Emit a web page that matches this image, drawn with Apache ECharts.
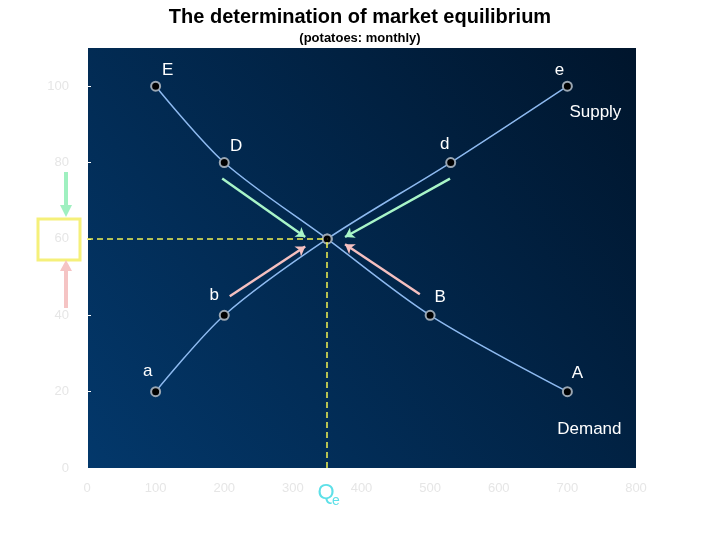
<!DOCTYPE html>
<html><head><meta charset="utf-8">
<script src="https://cdn.jsdelivr.net/npm/echarts@6/dist/echarts.min.js"></script>
<style>body{margin:0}#c{width:720px;height:540px}</style></head>
<body><div id="c"></div>
<script>
const demandQ = [100, 200, 350, 500, 700];
const demandP = [100, 80, 60, 40, 20];
const supplyQ = [100, 200, 350, 530, 700];
const supplyP = [20, 40, 60, 80, 100];
const xTicks = [0, 100, 200, 300, 400, 500, 600, 700, 800];
const yTicks = [0, 20, 40, 60, 80, 100];
const eqQ = 350, eqP = 60;
const pointLabels = [
  {t:'E', c:[100,100], dx:12, dy:-16}, {t:'D', c:[200,80], dx:12, dy:-16},
  {t:'B', c:[500,40], dx:10, dy:-18}, {t:'A', c:[700,20], dx:10, dy:-18},
  {t:'Demand', c:[700,20], dx:22, dy:38},
  {t:'a', c:[100,20], dx:-8, dy:-20}, {t:'b', c:[200,40], dx:-10, dy:-20},
  {t:'d', c:[530,80], dx:-6, dy:-18}, {t:'e', c:[700,100], dx:-8, dy:-16},
  {t:'Supply', c:[700,100], dx:28, dy:26}
];
const chart = echarts.init(document.getElementById('c'));
const curve = (q, p) => q.map((v, i) => [v, p[i]]);
const arrow = (a, b, col) => [{coord:a, lineStyle:{color:col, width:2.5, type:'solid'}, symbol:'none'}, {coord:b, symbol:'arrow'}];
const baseGraphic = [
  {type:'rect', shape:{x:38,y:219,width:42,height:41}, style:{fill:'none', stroke:'#f5f07a', lineWidth:3}},
  {type:'line', shape:{x1:66,y1:172,x2:66,y2:207}, style:{stroke:'#9ff0c0', lineWidth:4}},
  {type:'polygon', shape:{points:[[60,205],[72,205],[66,217]]}, style:{fill:'#9ff0c0'}},
  {type:'line', shape:{x1:66,y1:308,x2:66,y2:270}, style:{stroke:'#f5c4c4', lineWidth:4}},
  {type:'polygon', shape:{points:[[60,271],[72,271],[66,260]]}, style:{fill:'#f5c4c4'}},
  {type:'text', x:326, y:493, style:{text:'Q', fill:'#5ee0e8', font:'22px Liberation Sans', align:'center', verticalAlign:'middle'}},
  {type:'text', x:336, y:501, style:{text:'e', fill:'#5ee0e8', font:'14px Liberation Sans', align:'center', verticalAlign:'middle'}}
];
chart.setOption({
  animation:false,
  backgroundColor:'#ffffff',
  title:[{text:'The determination of market equilibrium', left:'center', top:2, textStyle:{fontFamily:'Liberation Sans', fontSize:20, fontWeight:'bold', color:'#000'}},
         {text:'(potatoes: monthly)', left:'center', top:27, textStyle:{fontFamily:'Liberation Sans', fontSize:13, fontWeight:'bold', color:'#000'}}],
  grid:{left:87, right:84, top:48, bottom:72, show:true, borderWidth:0,
    backgroundColor:new echarts.graphic.LinearGradient(0,1,1,0,[{offset:0,color:'#03386b'},{offset:1,color:'#00152c'}])},
  xAxis:{type:'value', min:0, max:800, interval:100,
    axisLine:{show:true, lineStyle:{color:'#fff'}}, axisTick:{show:false}, splitLine:{show:false},
    axisLabel:{color:'#e6e6e6', fontSize:13, margin:14, formatter:v=>xTicks.includes(v)?String(v):''}},
  yAxis:{type:'value', min:0, max:110, interval:20,
    axisLine:{show:true, lineStyle:{color:'#fff', width:2}}, axisTick:{show:true, length:4, inside:true, lineStyle:{color:'#fff'}}, splitLine:{show:false},
    axisLabel:{color:'#e6e6e6', fontSize:13, margin:18, showMaxLabel:false, formatter:v=>yTicks.includes(v)?String(v):''}},
  series:[
    {type:'line', data:curve(demandQ, demandP), smooth:0.3, symbol:'circle', symbolSize:9,
      lineStyle:{color:'#8db9ef', width:1.5}, itemStyle:{color:'#000', borderColor:'#9aa6b2', borderWidth:2}, z:3,
      markLine:{silent:true, symbol:['none','arrow'], symbolSize:9, label:{show:false},
        data:[
          arrow([197,75.8],[318,60.5],'#a8f5c8'),
          arrow([529,75.8],[376,60.5],'#a8f5c8'),
          arrow([208,45],[318,58],'#f5c0c0'),
          arrow([485,45.5],[376,58.6],'#f5c0c0')
        ]}},
    {type:'line', data:curve(supplyQ, supplyP), smooth:0.3, symbol:'circle', symbolSize:9,
      lineStyle:{color:'#8db9ef', width:1.5}, itemStyle:{color:'#000', borderColor:'#9aa6b2', borderWidth:2}, z:3,
      markLine:{silent:true, symbol:['none','none'], label:{show:false},
        data:[
          [{coord:[0,eqP], lineStyle:{color:'#f2f250', type:[6,4], width:1.5}}, {coord:[eqQ,eqP]}],
          [{coord:[eqQ,0], lineStyle:{color:'#f2f250', type:[6,4], width:1.5}}, {coord:[eqQ,eqP]}]
        ]}}
  ],
  graphic:baseGraphic
});
const extra = pointLabels.map(l => {
  const p = chart.convertToPixel({gridIndex:0}, l.c);
  return {type:'text', x:p[0]+l.dx, y:p[1]+l.dy, style:{text:l.t, fill:'#ffffff', font:'17px Liberation Sans', align:'center', verticalAlign:'middle'}};
});
chart.setOption({graphic: baseGraphic.concat(extra)}, {replaceMerge:['graphic']});
</script></body></html>
